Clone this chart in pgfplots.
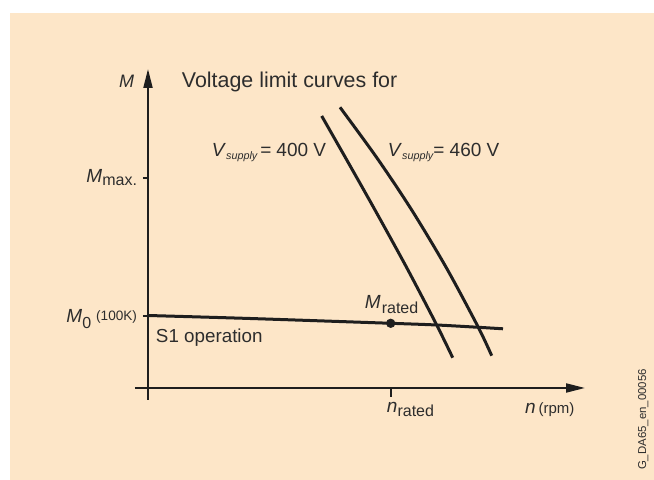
\documentclass[border=0pt]{standalone}
\usepackage{pgfplots}
\pgfplotsset{compat=1.18}
\usepackage{fontspec}
\setmainfont{Liberation Sans}
\usetikzlibrary{arrows.meta}
\definecolor{peach}{RGB}{253,230,200}
\definecolor{ink}{RGB}{30,30,30}
\definecolor{txt}{RGB}{45,45,45}
\newcommand{\fs}[1]{\fontsize{#1}{#1}\selectfont}
\tikzset{lbl/.style={text=txt, inner sep=0pt, outer sep=0pt}}
\begin{document}
\begin{tikzpicture}
\path[use as bounding box] (-74pt,-46pt) rectangle (253pt,194pt);
\fill[white] (-74pt,-46pt) rectangle (253pt,194pt);
\fill[peach] (-69pt,-46pt) rectangle (253pt,187.5pt);
\begin{axis}[
  at={(0pt,0pt)}, anchor=origin,
  x=0.5pt, y=0.5pt,
  xmin=-13, xmax=437, ymin=-12, ymax=319,
  axis lines=middle,
  axis line style={draw=ink, line width=1pt, -{Triangle[length=9.5pt,width=4.5pt]}},
  xtick={243}, ytick={72,210},
  xticklabels={}, yticklabels={},
  tick style={draw=ink, line width=0.8pt},
  tick align=outside,
  major tick length=2.5pt,
  xtick style={/pgfplots/major tick length=4.5pt},
  clip=false,
]
% S1 operation characteristic
\addplot[ink, line width=1.5pt, smooth] coordinates {(0,72.5)(102,69.5)(242.7,64.7)(288.7,63)(330.3,60.7)(355,59.2)};
% rated point
\addplot[only marks, mark=*, mark size=2.1pt, ink] coordinates {(242.7,64.7)};
% voltage limit curve 400 V
\addplot[ink, line width=1.5pt, smooth] coordinates {(173.7,272)(200.5,225)(227,178)(258.9,120)(288.7,63)(304.7,30.3)};
% voltage limit curve 460 V
\addplot[ink, line width=1.5pt, smooth] coordinates {(192,280.7)(229,230)(263.7,178)(298.5,120)(330.3,60.7)(343.7,32.3)};

\node[lbl, anchor=base east, font=\fs{9}\itshape] at (axis cs:-14,300) {M};
\node[lbl, anchor=base west, font=\fs{10.7}] at (axis cs:34,300) {Voltage limit curves for};
\node[lbl, anchor=base west, font=\fs{9.5}] at (axis cs:64,231) {\textit{V}\raisebox{-1.5pt}{\fs{5.4}\itshape supply}\hspace{1.5pt}=\hspace{2.5pt}400 V};
\node[lbl, anchor=base west, font=\fs{9.5}] at (axis cs:240,231) {\textit{V}\raisebox{-1.5pt}{\fs{5.4}\itshape supply}= 460 V};
\node[lbl, anchor=base east, font=\fs{9.5}] at (axis cs:-11,205) {\textit{M}\raisebox{-1.5pt}{\fs{8}max.}};
\node[lbl, anchor=base east, font=\fs{9.5}] at (axis cs:-11,65) {\textit{M}\raisebox{-3pt}{\fs{8}0}\hspace{2.5pt}\raisebox{1.3pt}{\fs{6.8}(100K)}};
\node[lbl, anchor=base west, font=\fs{9.4}] at (axis cs:8,45) {S1 operation};
\node[lbl, anchor=base west, font=\fs{9.5}] at (axis cs:217,79) {\textit{M}\hspace{0.5pt}\raisebox{-2.5pt}{\fs{8}rated}};
\node[lbl, anchor=base west, font=\fs{9.5}] at (axis cs:239,-25) {\textit{n}\raisebox{-2pt}{\fs{8}rated}};
\node[lbl, anchor=base west, font=\fs{9.5}] at (axis cs:377,-26) {\textit{n}\hspace{1.5pt}{\fs{7.5}(rpm)}};
\node[lbl, anchor=base west, rotate=90, font=\fs{5.7}] at (axis cs:498,-82) {G\_DA65\_en\_00056};
\end{axis}
\end{tikzpicture}
\end{document}
